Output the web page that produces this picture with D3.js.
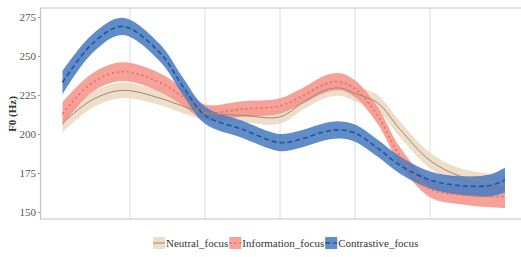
<!DOCTYPE html>
<meta charset="utf-8">
<style>
body { margin: 0; background: #fff; }
text { font-family: "Liberation Serif", "DejaVu Serif", serif; }
.grid line { stroke: #dcdcdc; stroke-width: 1; }
.axis text { fill: #555; font-size: 11px; }
</style>
<svg width="521" height="257"></svg>
<script src="https://d3js.org/d3.v7.min.js"></script>
<script>

// normalised time points
var time = [0.1, 0.5, 0.9, 1.4, 1.7, 2.0, 2.5, 3.0, 3.3, 3.6, 3.8, 4.0, 4.3, 4.6, 5.0, 5.4, 5.8, 6.0];

// fitted F0 (Hz) and band half-widths
var neutral     = [207, 222, 228, 223, 218, 213.5, 212, 211, 220, 228, 229.5, 226, 220, 203, 183, 173, 169, 167];
var neutralSe   = [6, 5, 5, 4.5, 4.5, 4.5, 4.5, 4.5, 4.5, 5, 5, 5, 5, 5, 5, 5, 5.5, 6];
var information = [213, 233, 240, 233, 224, 214, 216, 218, 224.5, 232, 233.5, 229, 212, 186, 165, 161, 160, 160];
var informationSe = [7.5, 6, 6, 6, 5.5, 5, 5, 5, 5, 5.5, 5.5, 5.5, 5.5, 5.5, 5.5, 6, 7, 7.5];
var contrastive = [233, 258, 269, 252, 231, 212, 203, 194.5, 197, 201.5, 202.6, 200.6, 191, 180, 170.5, 167, 167, 170.5];
var contrastiveSe = [7.5, 6, 5.5, 5.5, 5.5, 5.5, 5.5, 5.5, 5.5, 5.5, 5.5, 5.5, 5.5, 5.5, 5.5, 6, 7, 8];

var names = ["Neutral_focus", "Information_focus", "Contrastive_focus"];
var yTicks = [150, 175, 200, 225, 250, 275];
var xGrid = [1, 2, 3, 4, 5];

var series = [
  {name: names[0], fit: neutral, se: neutralSe, fill: "#ecd8c0", stroke: "#9a8877", dash: null, width: 1},
  {name: names[1], fit: information, se: informationSe, fill: "#f5958b", stroke: "#e46a62", dash: "2,3", width: 1.6},
  {name: names[2], fit: contrastive, se: contrastiveSe, fill: "#4a7cc3", stroke: "#235494", dash: "5,3", width: 1.6}
];

var svg = d3.select("svg");

var x = d3.scaleLinear().domain([-0.2, 6.3]).range([40, 527.5]);
var y = d3.scaleLinear().domain([145.5, 280.8]).range([219, 8]);

// vertical grid
svg.append("g").attr("class", "grid")
  .selectAll("line").data(xGrid).enter().append("line")
    .attr("x1", d => x(d)).attr("x2", d => x(d))
    .attr("y1", y.range()[1]).attr("y2", y.range()[0]);

// panel border
svg.append("path")
  .attr("d", "M528,8H40.5V219H528")
  .attr("fill", "none").attr("stroke", "#c4c4c4").attr("stroke-width", 1.2);

var area = d3.area()
    .x((d, i) => x(time[i]))
    .curve(d3.curveCatmullRom);
var line = d3.line()
    .x((d, i) => x(time[i]))
    .y(d => y(d))
    .curve(d3.curveCatmullRom);

series.forEach(function(s) {
  svg.append("path")
    .datum(s.fit)
    .attr("fill", s.fill)
    .attr("fill-opacity", 0.88)
    .attr("d", area.y0((d, i) => y(d - s.se[i])).y1((d, i) => y(d + s.se[i])));
});
series.forEach(function(s) {
  svg.append("path")
    .datum(s.fit)
    .attr("fill", "none")
    .attr("stroke", s.stroke)
    .attr("stroke-width", s.width)
    .attr("stroke-dasharray", s.dash)
    .attr("d", line);
});

// y axis
var ya = svg.append("g").attr("class", "axis")
  .attr("transform", "translate(40,0)")
  .call(d3.axisLeft(y).tickValues(yTicks).tickSize(2).tickPadding(2));
ya.select(".domain").remove();
ya.selectAll(".tick line").attr("stroke", "#999");

svg.append("text")
  .attr("transform", "translate(16,114) rotate(-90)")
  .attr("text-anchor", "middle")
  .attr("font-weight", "bold")
  .attr("font-size", 11)
  .attr("fill", "#333")
  .text("F0 (Hz)");

// legend
var lg = svg.append("g").attr("transform", "translate(153,237)");
var lx = 0;
series.forEach(function(s) {
  var g = lg.append("g").attr("transform", "translate(" + lx + ",0)");
  g.append("rect").attr("width", 12).attr("height", 12)
    .attr("fill", s.fill).attr("fill-opacity", 0.88);
  g.append("line").attr("x1", 0).attr("x2", 12).attr("y1", 6).attr("y2", 6)
    .attr("stroke", s.stroke).attr("stroke-width", s.width)
    .attr("stroke-dasharray", s.dash);
  var t = g.append("text").attr("x", 13).attr("y", 10)
    .attr("font-size", 11).attr("fill", "#333").text(s.name);
  lx += 13 + t.node().getComputedTextLength() + 1;
});

</script>
